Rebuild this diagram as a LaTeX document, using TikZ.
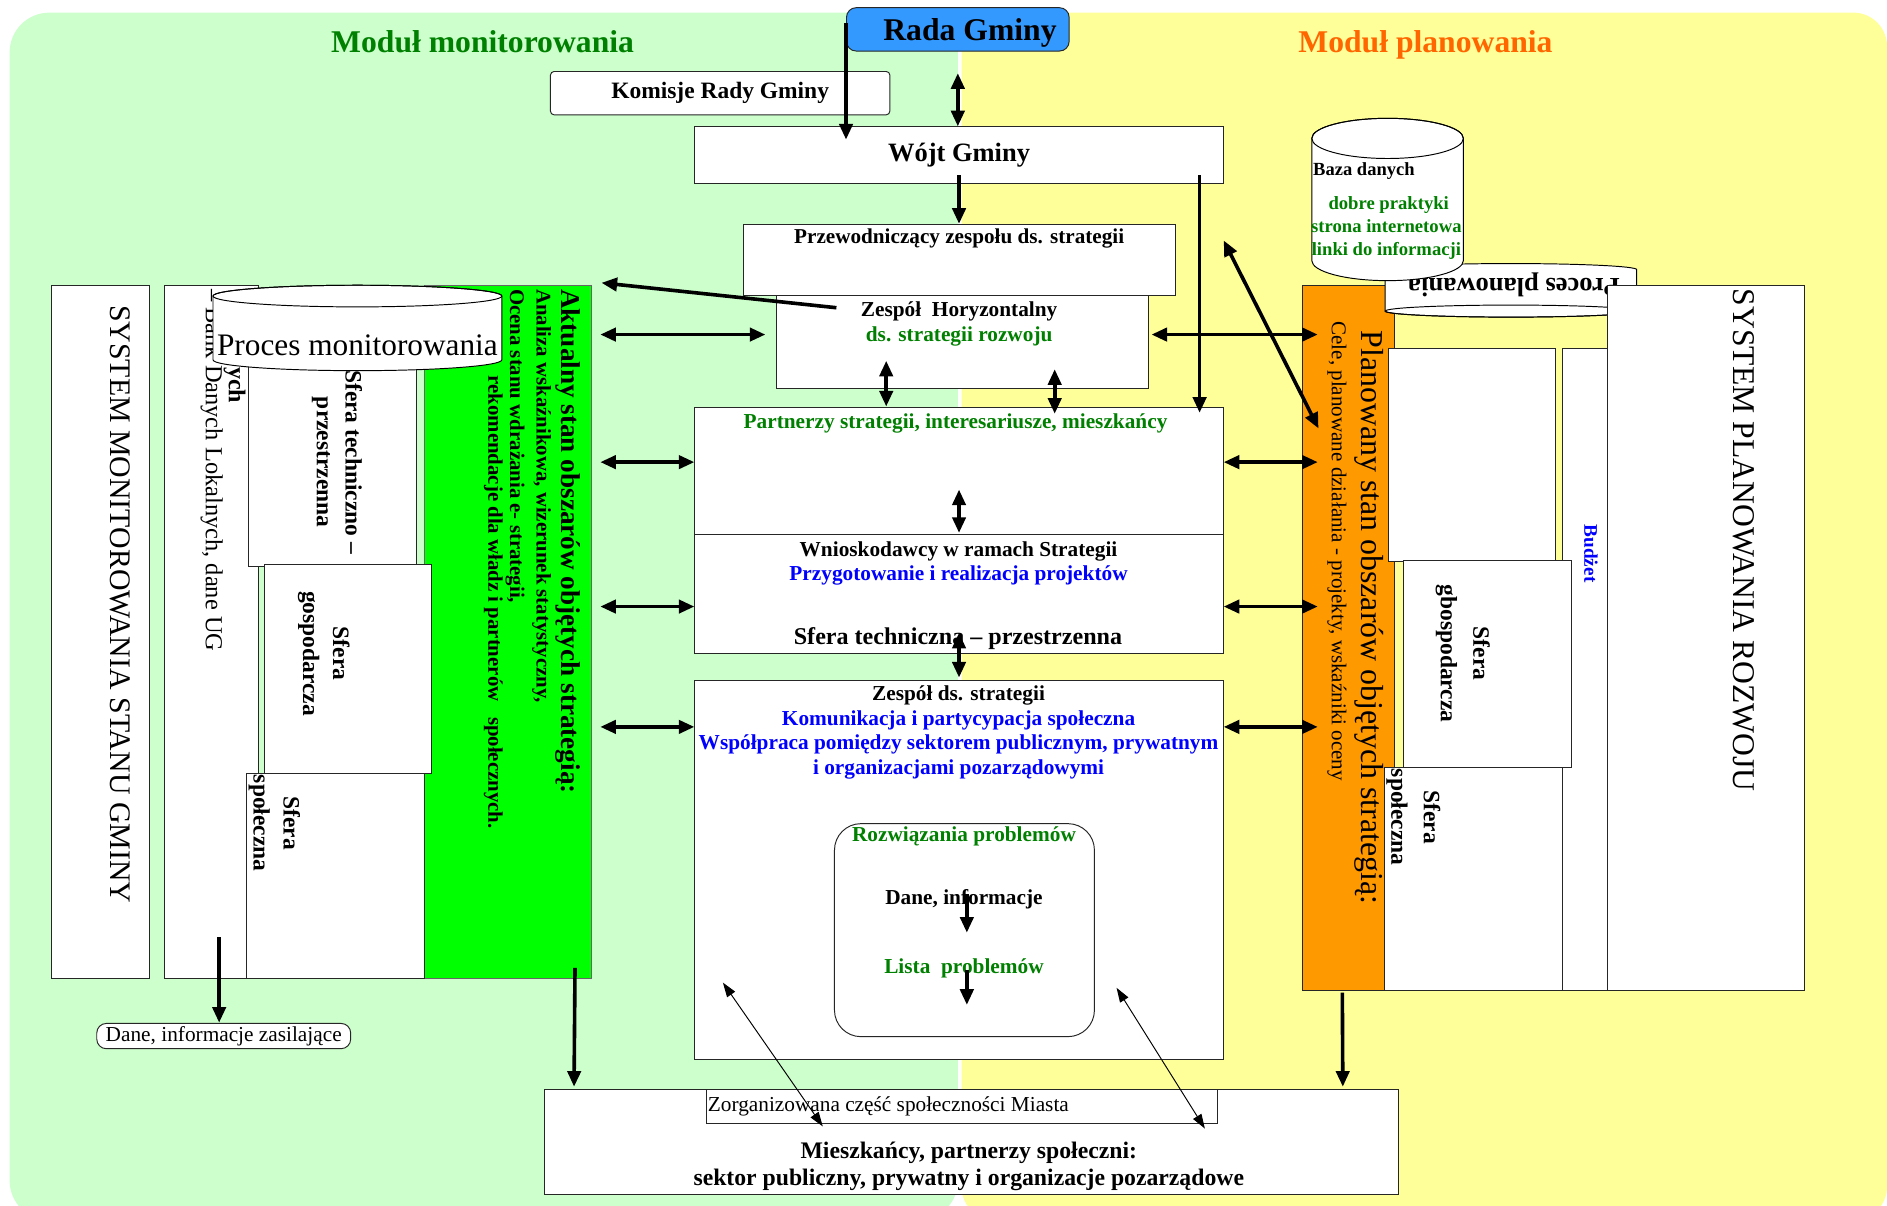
\documentclass[tikz,border=0pt]{standalone}
\usepackage{fontspec}
\setmainfont{Liberation Serif}
\usetikzlibrary{arrows.meta,calc}

\definecolor{bggreen}{HTML}{CCFFCC}
\definecolor{bgyellow}{HTML}{FFFF99}
\definecolor{radablue}{HTML}{3399FF}
\definecolor{panelgreen}{HTML}{00FF00}
\definecolor{panelorange}{HTML}{FF9900}
\definecolor{txtgreen}{HTML}{008000}
\definecolor{txtblue}{HTML}{0000FF}
\definecolor{txtorange}{HTML}{FF6600}

\newcommand{\fsz}[2]{\fontsize{#1}{#2}\selectfont}

\tikzset{
  box/.style={draw=black!85, line width=0.8pt, fill=white, inner sep=0pt, anchor=north west},
  txt/.style={inner sep=0pt, align=center},
  vtxt/.style={inner sep=0pt, align=center, rotate=-90},
  title/.style={inner sep=0pt, font=\bfseries\fsz{26.3}{30}},
  arr/.style={line width=3pt, -{Triangle[length=13pt,width=11pt]}},
  dblarr/.style={line width=3pt, {Triangle[length=13pt,width=11pt]}-{Triangle[length=13pt,width=11pt]}},
  thinarr/.style={line width=0.8pt, {Triangle[length=12pt,width=8pt]}-{Triangle[length=12pt,width=8pt]}}
}

\begin{document}
\begin{tikzpicture}[x=1pt,y=-1pt]
\useasboundingbox (0,0) rectangle (1568,1002);
\clip (0,0) rectangle (1568,1002);
\fill[white] (0,0) rectangle (1568,1002);

% two modules
\fill[bggreen, rounded corners=33pt] (8,10.5) rectangle (796,1014);
\fill[bgyellow, rounded corners=28pt] (799,10.5) rectangle (1568,1014);

\node[title, text=txtgreen] (modmon) at (401,35) {Moduł monitorowania};
\node[title, text=txtorange] (modplan) at (1184.5,37) {Moduł planowania};

% centre column
\node[box, fill=radablue, rounded corners=8pt,
minimum width=185pt, minimum height=36pt] (rada) at (703,6) {};
\node[txt, font=\bfseries\fsz{26.3}{30}] (radatxt) at (806,27) {Rada Gminy};

\node[box, rounded corners=3pt, minimum width=282pt, minimum height=36pt,
font=\bfseries\fsz{19.5}{22}] (kom) at (457,59) {Komisje Rady Gminy};

\node[box, minimum width=439pt, minimum height=47pt,
font=\bfseries\fsz{22}{26}] (wojt) at (577,105) {Wójt Gminy};

\node[box, minimum width=359pt, minimum height=59pt] (przew) at (617,186) {};
\node[txt, font=\bfseries\fsz{17.6}{20}] (przewtxt) at (797,198) {Przewodniczący zespołu ds. strategii};

\node[box, minimum width=309pt, minimum height=77pt] (zh) at (645,245) {};
\node[txt, font=\bfseries\fsz{17.7}{21}] (zhtxt) at (797,269)
{Zespół\ \ Horyzontalny\\\textcolor{txtgreen}{ds. strategii rozwoju}};

\node[box, minimum width=439pt, minimum height=106pt] (partn) at (577,338) {};
\node[txt, text=txtgreen, font=\bfseries\fsz{17.7}{20}] (partntxt) at (794,352)
{Partnerzy strategii, interesariusze, mieszkańcy};

\node[box, minimum width=439pt, minimum height=99pt] (wnio) at (577,444) {};
\node[txt, font=\bfseries\fsz{17.7}{20}] (wniotxt) at (796.5,468)
{Wnioskodawcy w ramach Strategii\\\textcolor{txtblue}{Przygotowanie i realizacja projektów}};
\node[txt, font=\bfseries\fsz{20}{24}] (sferatxt) at (796,531) {Sfera techniczna – przestrzenna};

\node[box, minimum width=439pt, minimum height=315pt] (zesp) at (577,565) {};
\node[txt, font=\bfseries\fsz{17.7}{20.5}] (zesptxt) at (796.5,608.5)
{Zespół ds. strategii\\\textcolor{txtblue}{Komunikacja i partycypacja społeczna}\\
\textcolor{txtblue}{Współpraca pomiędzy sektorem publicznym, prywatnym}\\
\textcolor{txtblue}{i organizacjami pozarządowymi}};

\node[box, rounded corners=22pt, minimum width=216pt, minimum height=177pt] (rozw) at (693,684) {};
\node[txt, text=txtgreen, font=\bfseries\fsz{17.7}{20}] (rozwtxt) at (801,695) {Rozwiązania problemów};
\node[txt, font=\bfseries\fsz{17.7}{20}] (danetxt) at (801,747) {Dane, informacje};
\node[txt, text=txtgreen, font=\bfseries\fsz{17.7}{20}] (listatxt) at (801,805) {Lista\ \ problemów};

\node[box, minimum width=710pt, minimum height=87pt] (mieszk) at (452,905) {};
\node[box, minimum width=424pt, minimum height=28pt] (zorg) at (587,905) {};
\node[txt, anchor=west, font=\fsz{17.7}{20}] (zorgtxt) at (588,919) {Zorganizowana część społeczności Miasta};
\node[txt, font=\bfseries\fsz{19.7}{22.5}] (mieszktxt) at (805,969)
{Mieszkańcy, partnerzy społeczni:\\sektor publiczny, prywatny i organizacje pozarządowe};

% monitoring side
\node[box, minimum width=82pt, minimum height=576pt] (sysmon) at (42,237) {};
\node[vtxt, font=\fsz{24.8}{28}] (sysmontxt) at (99.5,502) {SYSTEM MONITOROWANIA STANU GMINY};

\node[box, minimum width=78pt, minimum height=576pt] (bank) at (136,237) {};
\node[vtxt, anchor=west, font=\fsz{20.3}{24}] (banktxt) at (176,240) {– Bank Danych Lokalnych, dane UG};
\node[vtxt, font=\bfseries\fsz{20}{24}] (ychtxt) at (195,320) {ych};

\node[box, minimum width=140pt, minimum height=220pt] (sfT) at (206,250) {};
\node[vtxt, font=\bfseries\fsz{19.5}{24}] (sfTtxt) at (280,384) {Sfera techniczno –\\przestrzenna};

\node[box, fill=panelgreen, draw=black!60, minimum width=139pt, minimum height=576pt] (akt) at (352,237) {};
\node[vtxt, anchor=west, font=\bfseries\fsz{22.6}{26}] (akt1) at (472,240) {Aktualny stan obszarów objętych strategią:};
\node[vtxt, anchor=west, font=\bfseries\fsz{17.3}{20}] (akt2) at (450,240) {Analiza wskaźnikowa, wizerunek statystyczny,};
\node[vtxt, anchor=west, font=\bfseries\fsz{17.3}{20}] (akt3) at (428,240) {Ocena stanu wdrażania e- strategii,};
\node[vtxt, anchor=west, font=\bfseries\fsz{17.3}{20}] (akt4) at (410,312) {rekomendacje dla władz i partnerów\ \ \ społecznych.};

\node[box, minimum width=139pt, minimum height=173pt] (sfG) at (219,469) {};
\node[vtxt, font=\bfseries\fsz{19.5}{25}] (sfGtxt) at (269,543) {Sfera\\gospodarcza};
\node[box, minimum width=148pt, minimum height=171pt] (sfS) at (204,642) {};
\node[vtxt, font=\bfseries\fsz{19.5}{25}] (sfStxt) at (228,684) {Sfera\\społeczna};

% cylinder
\draw[fill=white, line width=0.8pt] (177,246) -- (177,299)
  arc[start angle=180, end angle=360, x radius=120pt, y radius=9pt] -- (417,246)
  arc[start angle=0, end angle=180, x radius=120pt, y radius=9pt] -- cycle;
\draw[line width=0.8pt] (297,246) ellipse[x radius=120pt, y radius=9pt];
\node[txt, font=\fsz{26}{30}] (procmon) at (297,287) {Proces monitorowania};

\node[box, rounded corners=8pt, minimum width=211pt, minimum height=21pt,
font=\fsz{17.7}{20}] (dane) at (80,850) {Dane, informacje zasilające};

% planning side
\node[box, fill=panelorange, minimum width=76pt, minimum height=586pt] (oran) at (1082,237) {};
\node[vtxt, font=\fsz{26.5}{30}] (orantxt) at (1137.5,513) {Planowany stan obszarów objętych strategią:};
\node[vtxt, font=\fsz{17.5}{20}] (celetxt) at (1111,458) {Cele, planowane działania - projekty, wskaźniki oceny};

\node[box, minimum width=139pt, minimum height=177pt] (boxA) at (1153,289) {};
\node[box, minimum width=37pt, minimum height=534pt] (colD) at (1298,289) {};
\node[vtxt, text=txtblue, font=\bfseries\fsz{16}{18}] (budzet) at (1322,460) {Budżet};
\node[box, minimum width=139pt, minimum height=172pt] (boxB) at (1166,465) {};
\node[vtxt, font=\bfseries\fsz{19.5}{27}] (boxBtxt) at (1215.5,543) {Sfera\\gbospodarcza};
\node[box, minimum width=148pt, minimum height=186pt] (boxC) at (1150,637) {};
\node[vtxt, font=\bfseries\fsz{19.5}{27}] (boxCtxt) at (1174.5,679) {Sfera\\społeczna};

\draw[fill=white, line width=0.8pt] (1151,224)
  arc[start angle=180, end angle=0, x radius=104.5pt, y radius=5pt] -- (1360,258.5)
  arc[start angle=0, end angle=-180, x radius=104.5pt, y radius=5pt] -- cycle;
\draw[line width=0.8pt] (1255.5,258.5) ellipse[x radius=104.5pt, y radius=5pt];
\node[txt, rotate=180, font=\bfseries\fsz{22}{26}] (procplan) at (1258,237) {Proces planowania};

\node[box, minimum width=164pt, minimum height=586pt] (sysplan) at (1335,237) {};
\node[vtxt, font=\fsz{26.3}{30}] (sysplantxt) at (1449,449) {SYSTEM PLANOWANIA ROZWOJU};

\draw[fill=white, line width=0.8pt] (1090,115) -- (1090,216.5)
  arc[start angle=180, end angle=360, x radius=63pt, y radius=16.7pt] -- (1216,115)
  arc[start angle=0, end angle=180, x radius=63pt, y radius=16.7pt] -- cycle;
\draw[line width=0.8pt] (1153,115) ellipse[x radius=63pt, y radius=16.7pt];
\node[txt, anchor=west, font=\bfseries\fsz{15.4}{19}] (bazatxt) at (1091,142) {Baza danych};
\node[txt, text=txtgreen, font=\bfseries\fsz{15.5}{19}] (bazalist) at (1152,189.5)
{\ dobre praktyki\\strona internetowa\\linki do informacji};

% connectors
\coordinate (rowA) at (0,278);
\coordinate (rowB) at (0,384);
\coordinate (rowC) at (0,504);
\coordinate (rowD) at (0,604);

\draw[arr] ([yshift=5pt]rada.west) -- ($(rada.west |- wojt.north)+(0,11)$);
\draw[dblarr] ($(rada.south)+(0,18)$) -- (rada.south |- wojt.north);
\draw[arr] ($(wojt.south)+(0,-7)$) -- (przew.north);
\draw[arr] ($(wojt.south east)+(-20,-7)$) -- ($(partn.north east)+(-20,5)$);
\draw[dblarr] ($(zh.south)+(-63.5,-23)$) -- ($(zh.south)+(-63.5,15)$);
\draw[dblarr] ($(zh.south)+(76.5,-16)$) -- ($(zh.south)+(76.5,21)$);
\draw[dblarr] ($(partn.south)+(0,-38)$) -- ($(partn.south)+(0,-2)$);
\draw[dblarr] ($(wnio.south)+(0,-18)$) -- ($(zesp.north)+(0,-2)$);
\draw[arr] ($(rozw.north)+(2,59)$) -- ($(rozw.north)+(2,91)$);
\draw[arr] ($(rozw.north)+(2,122)$) -- ($(rozw.north)+(2,151)$);

\draw[dblarr] ($(akt.east |- rowA)+(7,0)$) -- ($(zh.west |- rowA)+(-9,0)$);
\draw[dblarr] ($(akt.east |- rowB)+(7,0)$) -- (partn.west |- rowB);
\draw[dblarr] ($(akt.east |- rowC)+(7,0)$) -- (wnio.west |- rowC);
\draw[dblarr] ($(akt.east |- rowD)+(7,0)$) -- (zesp.west |- rowD);

\draw[dblarr] ($(zh.east |- rowA)+(2,0)$) -- ($(oran.west |- rowA)+(13,0)$);
\draw[dblarr] (partn.east |- rowB) -- ($(oran.west |- rowB)+(13,0)$);
\draw[dblarr] (wnio.east |- rowC) -- ($(oran.west |- rowC)+(13,0)$);
\draw[dblarr] (zesp.east |- rowD) -- ($(oran.west |- rowD)+(13,0)$);

\draw[arr] ($(zh.north west)+(50,10.7)$) -- ($(akt.north east)+(8,-2)$);
\draw[dblarr] ($(wojt.south east)+(0,47)$) -- ($(oran.north west)+(13.6,119)$);

\draw[arr] ($(akt.south east)+(-14,-9.5)$) -- ($(mieszk.north west)+(25,-2)$);
\draw[arr] ($(oran.south)+(-5,1)$) -- ($(mieszk.north east)+(-47,-2)$);
\draw[arr] ($(bank.south)+(6.7,-35)$) -- ($(bank.south)+(6.7,36)$);

\draw[thinarr] ($(zesp.south west)+(23.7,-64.3)$) -- ($(mieszk.north west)+(231.7,31)$);
\draw[thinarr] ($(zesp.south east)+(-89,-60)$) -- ($(zorg.south east)+(-10.6,4)$);
\end{tikzpicture}
\end{document}
